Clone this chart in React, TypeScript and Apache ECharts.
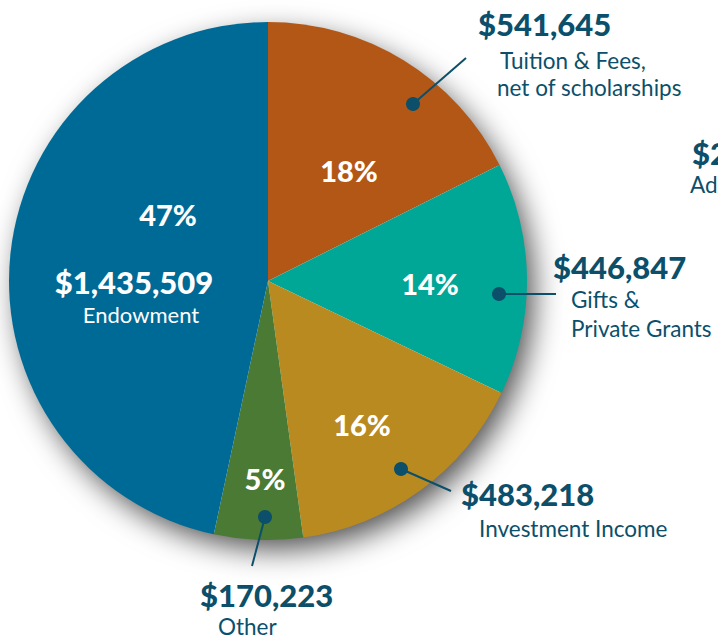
import React, { useEffect, useRef } from "react";
import * as echarts from "echarts";

const categories = ["Tuition & Fees, net of scholarships", "Gifts & Private Grants", "Investment Income", "Other", "Endowment"];
const values = [541645, 446847, 483218, 170223, 1435509];
const pctLabels = ["18%", "14%", "16%", "5%", "47%"];
const colors = ["#B35716", "#00A696", "#B98A20", "#4A7A33", "#006A96"];
const subLines = [["Tuition & Fees,", "net of scholarships"], ["Gifts &", "Private Grants"], ["Investment Income"], ["Other"], ["Endowment"]];

const TEXT = "#0B4F6A";
const FONT = "Lato, 'Open Sans', sans-serif";

// layout (pixel positions of annotations)
const pctPos = [[349, 170], [430, 283], [362, 424], [265, 478], [168, 214]];
const callouts = [
  { dot: [413, 104], end: [466, 58], val: [478, 24], sub: [[500, 60], [497, 87]] },
  { dot: [499, 294], end: [556, 294], val: [553, 267], sub: [[571, 299], [571, 328]] },
  { dot: [401, 469], end: [451, 491], val: [461, 494], sub: [[479, 528]] },
  { dot: [265, 517], end: [252, 566], val: [200, 595], sub: [[218, 626]] },
];

const fmt = (v: number) => "$" + v.toLocaleString("en-US");

export default function App() {
  const ref = useRef<HTMLDivElement>(null);
  useEffect(() => {
    if (!ref.current) return;
    const chart = echarts.init(ref.current, null, { renderer: "svg" });
    const graphic: any[] = [];
    pctLabels.forEach((p, i) => {
      graphic.push({
        type: "text", x: pctPos[i][0], y: pctPos[i][1], z: 10,
        style: { text: p, fill: "#fff", font: `900 29px ${FONT}`, textAlign: "center", textVerticalAlign: "middle" },
      });
    });
    // endowment inside value
    graphic.push({
      type: "text", x: 134, y: 282, z: 10,
      style: { text: fmt(values[4]), fill: "#fff", font: `900 31px ${FONT}`, textAlign: "center", textVerticalAlign: "middle" },
    });
    graphic.push({
      type: "text", x: 141, y: 314, z: 10,
      style: { text: subLines[4][0], fill: "#fff", font: `22px ${FONT}`, textAlign: "center", textVerticalAlign: "middle" },
    });
    callouts.forEach((c, i) => {
      graphic.push({
        type: "line", z: 10,
        shape: { x1: c.dot[0], y1: c.dot[1], x2: c.end[0], y2: c.end[1] },
        style: { stroke: TEXT, lineWidth: 2 },
      });
      graphic.push({
        type: "circle", z: 11,
        shape: { cx: c.dot[0], cy: c.dot[1], r: 7 },
        style: { fill: TEXT },
      });
      graphic.push({
        type: "text", x: c.val[0], y: c.val[1], z: 10,
        style: { text: fmt(values[i]), fill: TEXT, font: `900 31px ${FONT}`, textAlign: "left", textVerticalAlign: "middle" },
      });
      subLines[i].forEach((s, j) => {
        graphic.push({
          type: "text", x: c.sub[j][0], y: c.sub[j][1], z: 10,
          style: { text: s, fill: TEXT, font: `22.5px ${FONT}`, textAlign: "left", textVerticalAlign: "middle" },
        });
      });
    });
    // partially visible label at right edge
    graphic.push({
      type: "text", x: 692, y: 153, z: 10,
      style: { text: "$2", fill: TEXT, font: `900 31px ${FONT}`, textAlign: "left", textVerticalAlign: "middle" },
    });
    graphic.push({
      type: "text", x: 690, y: 184, z: 10,
      style: { text: "Ad", fill: TEXT, font: `22.5px ${FONT}`, textAlign: "left", textVerticalAlign: "middle" },
    });

    chart.setOption({
      animation: false,
      backgroundColor: "#ffffff",
      series: [
        {
          type: "pie",
          silent: true,
          center: [268, 281],
          radius: [0, 257],
          z: 1,
          label: { show: false },
          labelLine: { show: false },
          emphasis: { disabled: true },
          data: [{
            value: 1,
            itemStyle: {
              color: "#ffffff",
              shadowBlur: 30,
              shadowColor: "rgba(0,0,0,0.7)",
              shadowOffsetX: 8,
              shadowOffsetY: 11,
            },
          }],
        },
        {
          type: "pie",
          silent: true,
          center: [268, 281],
          radius: [0, 259],
          startAngle: 90,
          clockwise: true,
          z: 2,
          label: { show: false },
          labelLine: { show: false },
          emphasis: { disabled: true },
          itemStyle: { borderWidth: 0 },
          data: categories.map((c, i) => ({ name: c, value: values[i], itemStyle: { color: colors[i] } })),
        },
      ],
      graphic,
    });
    return () => chart.dispose();
  }, []);
  return <div ref={ref} style={{ position: "fixed", left: 0, top: 0, width: 718, height: 640 }} />;
}
